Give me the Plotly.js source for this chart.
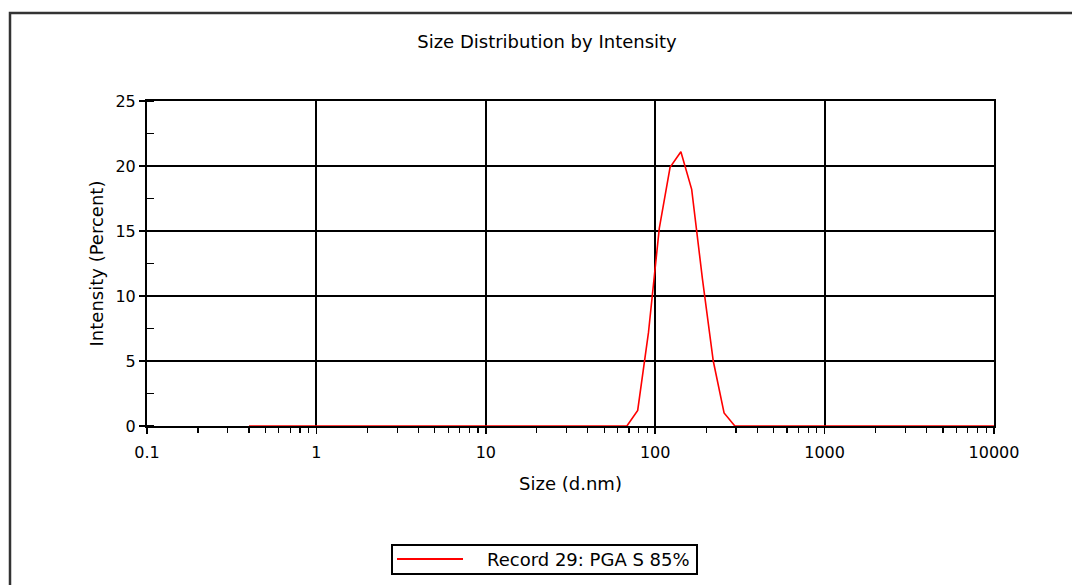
<!DOCTYPE html>
<html>
<head>
<meta charset="utf-8">
<script src="https://cdn.plot.ly/plotly-3.0.1.min.js"></script>
<style>
  html, body { margin: 0; padding: 0; background: #ffffff; }
  #chart { width: 1072px; height: 585px; }
</style>
</head>
<body>
<div id="chart"></div>
<script>
// Size classes (d.nm) of the instrument
var sizes = [0.4, 0.4632, 0.5365, 0.6213, 0.7195, 0.8332, 0.9649, 1.117, 1.294, 1.499,
  1.736, 2.010, 2.328, 2.696, 3.122, 3.615, 4.187, 4.849, 5.615, 6.503,
  7.531, 8.721, 10.10, 11.70, 13.54, 15.69, 18.17, 21.04, 24.36, 28.21,
  32.67, 37.84, 43.82, 50.75, 58.77, 68.06, 78.82, 91.28, 105.7, 122.4,
  141.8, 164.2, 190.1, 220.2, 255.0, 295.3, 342.0, 396.1, 458.7, 531.2,
  615.1, 712.4, 825.0, 955.4, 1106, 1281, 1484, 1718, 1990, 2305,
  2669, 3091, 3580, 4145, 4801, 5560, 6439, 7456, 8635, 10000];
// Intensity (%) for each size class
var intensity = [0, 0, 0, 0, 0, 0, 0, 0, 0, 0,
  0, 0, 0, 0, 0, 0, 0, 0, 0, 0,
  0, 0, 0, 0, 0, 0, 0, 0, 0, 0,
  0, 0, 0, 0, 0, 0, 1.2, 7.2, 15.2, 19.9,
  21.1, 18.2, 11.3, 5.0, 1.0, 0, 0, 0, 0, 0,
  0, 0, 0, 0, 0, 0, 0, 0, 0, 0,
  0, 0, 0, 0, 0, 0, 0, 0, 0, 0];
var xTickVals = [0.1, 1, 10, 100, 1000, 10000];
var xTickText = ['0.1', '1', '10', '100', '1000', '10000'];
var yTickVals = [0, 5, 10, 15, 20, 25];
var seriesName = 'Record 29: PGA S 85%';

var FONT = 'DejaVu Sans, Verdana, sans-serif';

var trace = {
  x: sizes, y: intensity, type: 'scatter', mode: 'lines',
  name: seriesName,
  line: { color: '#ff0000', width: 1.6 },
  showlegend: false, hoverinfo: 'x+y'
};

// plot-area geometry in px
var L = 147, R = 994, T = 101, B = 426, W = 1072, H = 585;
function px(xp) { return (xp - L) / (R - L); }
function py(yp) { return 1 - (yp - T) / (B - T); }

var layout = {
  width: W, height: H,
  margin: { l: L, r: W - R, t: T, b: H - B, pad: 0 },
  paper_bgcolor: '#ffffff', plot_bgcolor: '#ffffff',
  font: { family: FONT, color: '#000000', size: 16 },
  title: {
    text: 'Size Distribution by Intensity',
    font: { family: FONT, size: 18, color: '#000' },
    x: 547 / W, xref: 'container', xanchor: 'center',
    y: 1 - 42 / H, yref: 'container', yanchor: 'middle'
  },
  xaxis: {
    type: 'log', range: [-1, 4],
    tickvals: xTickVals, ticktext: xTickText,
    ticks: 'outside', ticklen: 6, tickwidth: 1.5, tickcolor: '#000',
    ticklabelstandoff: 5,
    showgrid: true, gridcolor: '#000', gridwidth: 2,
    showline: true, linecolor: '#000', linewidth: 2, mirror: true,
    zeroline: false,
    tickfont: { family: FONT, size: 16, color: '#000' },
    minor: { dtick: 'D1', ticks: 'outside', ticklen: 5, tickwidth: 1.2, tickcolor: '#000', showgrid: false },
    title: { text: 'Size (d.nm)', font: { family: FONT, size: 18, color: '#000' }, standoff: 16 },
    fixedrange: true
  },
  yaxis: {
    range: [0, 25],
    tickvals: yTickVals,
    ticks: 'outside', ticklen: 6, tickwidth: 1.5, tickcolor: '#000',
    showgrid: true, gridcolor: '#000', gridwidth: 2,
    showline: true, linecolor: '#000', linewidth: 2, mirror: true,
    zeroline: false,
    tickfont: { family: FONT, size: 16, color: '#000' },
    minor: { dtick: 2.5, ticks: 'inside', ticklen: 7, tickwidth: 1.2, tickcolor: '#000', showgrid: false },
    title: { text: 'Intensity (Percent)', font: { family: FONT, size: 18, color: '#000' }, standoff: 7 },
    fixedrange: true
  },
  shapes: [
    // outer frame
    { type: 'rect', xref: 'paper', yref: 'paper',
      x0: px(10), x1: px(1085), y0: py(600), y1: py(13),
      line: { color: '#333', width: 2.5 }, fillcolor: 'rgba(0,0,0,0)', layer: 'below' },
    // legend box
    { type: 'rect', xref: 'paper', yref: 'paper',
      x0: px(392), x1: px(697), y0: py(574), y1: py(545),
      line: { color: '#000', width: 2 }, fillcolor: 'rgba(0,0,0,0)' },
    // legend line sample
    { type: 'line', xref: 'paper', yref: 'paper',
      x0: px(397), x1: px(463), y0: py(559), y1: py(559),
      line: { color: '#ff0000', width: 2 } }
  ],
  annotations: [
    { text: seriesName, xref: 'paper', yref: 'paper',
      x: px(692), y: py(559), xanchor: 'right', yanchor: 'middle',
      showarrow: false, font: { family: FONT, size: 18, color: '#000' } }
  ]
};

Plotly.newPlot('chart', [trace], layout, { displayModeBar: false, staticPlot: true });
</script>
</body>
</html>
